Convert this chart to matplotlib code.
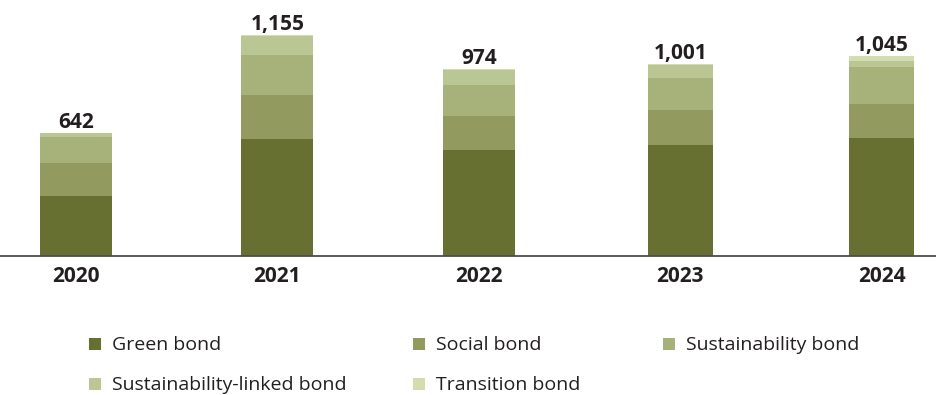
import matplotlib
matplotlib.use('Agg')
import matplotlib.pyplot as plt
from matplotlib.patches import Rectangle

plt.rcParams['font.family'] = ['Open Sans', 'DejaVu Sans']

years = ['2020', '2021', '2022', '2023', '2024']
series_names = ['Green bond', 'Social bond', 'Sustainability bond',
                'Sustainability-linked bond', 'Transition bond']
green = [315, 612, 553, 580, 617]
social = [172, 230, 177, 183, 176]
sustainability = [136, 209, 162, 167, 193]
sust_linked = [17, 99, 79, 66, 31]
transition = [2, 5, 3, 5, 28]

colors = ['#676f31', '#929a60', '#a6b27a', '#bac795', '#d4ddb0']
text_color = '#231f20'
bar_widths = [0.3575, 0.3575, 0.3575, 0.3227, 0.3227]

W, H = 936, 395
fig = plt.figure(figsize=(W / 100, H / 100), dpi=100)
ax = fig.add_axes([0, 1 - 256 / H, 1, 256 / H])

x = list(range(len(years)))
bottoms = [0] * len(years)
for values, color in zip([green, social, sustainability, sust_linked, transition], colors):
    ax.bar(x, values, width=bar_widths, bottom=bottoms, color=color, linewidth=0)
    bottoms = [b + v for b, v in zip(bottoms, values)]

# totals above each stack
for xi, total in zip(x, bottoms):
    ax.annotate(f'{total:,}', (xi, total), xytext=(0, 3.6), textcoords='offset points',
                ha='center', va='baseline', fontsize=15, fontweight='bold', color=text_color)

ax.set_xlim(-0.3774, 4.270)
ax.set_ylim(0, 1336)
ax.set_xticks(x)
ax.set_xticklabels(years, fontsize=15, fontweight='bold', color=text_color)
ax.tick_params(axis='x', length=0, pad=7.5)
ax.set_yticks([])
for side in ['top', 'left', 'right']:
    ax.spines[side].set_visible(False)
ax.spines['bottom'].set_color('#4d4d4d')
ax.spines['bottom'].set_linewidth(1.3)

# legend laid out in two rows below the chart
legend_x = [89, 413, 663, 89, 413]
legend_y = [350, 350, 350, 390, 390]
for name, color, lx, ly in zip(series_names, colors, legend_x, legend_y):
    fig.patches.append(Rectangle((lx / W, 1 - ly / H), 12 / W, 12 / H,
                                 transform=fig.transFigure, color=color, linewidth=0))
    fig.text((lx + 23) / W, 1 - ly / H, name, ha='left', va='baseline',
             fontsize=14, color=text_color)

fig.savefig('out.png', dpi=100)
